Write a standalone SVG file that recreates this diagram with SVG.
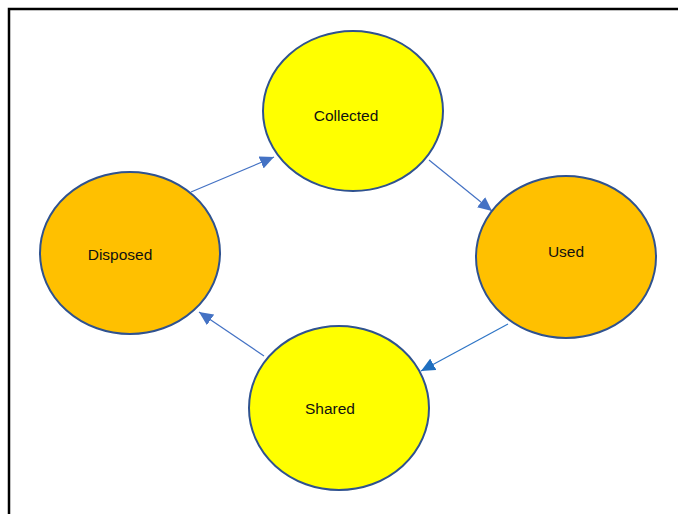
<svg xmlns="http://www.w3.org/2000/svg" width="678" height="514" viewBox="0 0 678 514">
<defs>
<style>
.node ellipse{stroke:#2F528F;stroke-width:2}
.y{fill:#FFFF00}
.o{fill:#FFC000}
.lbl{font-family:"Liberation Sans",Arial,sans-serif;font-size:15.5px;fill:#111;text-anchor:middle}
.edge{stroke:#4472C4;stroke-width:1.2;fill:none}
</style>
<marker id="ah" markerUnits="userSpaceOnUse" markerWidth="15" markerHeight="13" refX="14" refY="6.5" orient="auto">
<path d="M0,0 L14,6.5 L0,13 Z" fill="#4472C4"/>
</marker>
<marker id="ah2" markerUnits="userSpaceOnUse" markerWidth="15" markerHeight="13" refX="14" refY="6.5" orient="auto">
<path d="M0,0 L14,6.5 L0,13 Z" fill="#1F6FC0"/>
</marker>
</defs>
<rect width="678" height="514" fill="#fff"/>
<path d="M9,514 L9,9 L678,9" fill="none" stroke="#000" stroke-width="2.5"/>
<g id="connectors">
<line class="edge" x1="191" y1="192" x2="274" y2="157" marker-end="url(#ah)"/>
<line class="edge" x1="429" y1="160" x2="492" y2="211" marker-end="url(#ah)"/>
<line class="edge" x1="508" y1="324" x2="421" y2="371" style="stroke:#2E75C6" marker-end="url(#ah2)"/>
<line class="edge" x1="264" y1="356" x2="199" y2="312" marker-end="url(#ah)"/>
</g>
<g id="collected" class="node">
<ellipse class="y" cx="353" cy="111" rx="90" ry="80"/>
<text class="lbl" x="346" y="121">Collected</text>
</g>
<g id="used" class="node">
<ellipse class="o" cx="566" cy="257" rx="90" ry="81"/>
<text class="lbl" x="566" y="257">Used</text>
</g>
<g id="shared" class="node">
<ellipse class="y" cx="339" cy="408" rx="90" ry="82"/>
<text class="lbl" x="330" y="414">Shared</text>
</g>
<g id="disposed" class="node">
<ellipse class="o" cx="130" cy="253" rx="90" ry="81"/>
<text class="lbl" x="120" y="260">Disposed</text>
</g>
</svg>
